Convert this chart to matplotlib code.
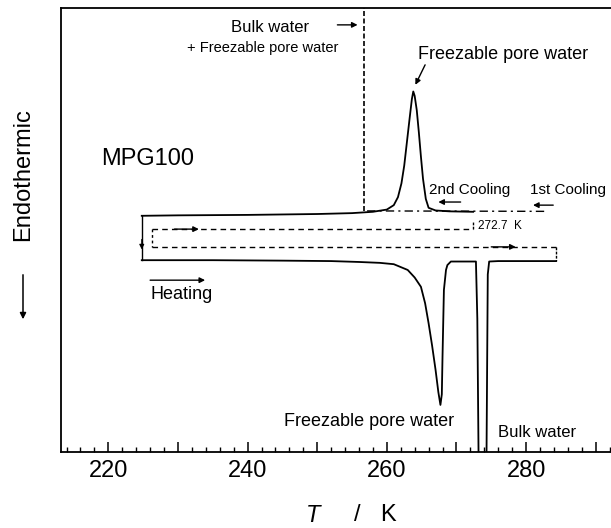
import matplotlib
matplotlib.use("Agg")
import matplotlib.pyplot as plt
import numpy as np

plt.rcParams['font.family'] = ['Liberation Sans', 'DejaVu Sans']

# ---- data (T in K, signal in arbitrary units, endothermic down) ----
T_cool2 = [224.8, 230, 240, 250, 255, 258, 260, 261, 261.6, 262.1, 262.5, 262.9, 263.3,
           263.6, 263.8, 264.0, 264.3, 264.6, 264.9, 265.2, 265.6, 266.0, 267, 269, 272.4]
y_cool2 = [53.2, 53.3, 53.4, 53.6, 53.8, 54.1, 54.6, 55.6, 57.4, 60.5, 64.5, 70.0, 75.5,
           79.5, 81.2, 80.2, 77.0, 72.0, 66.5, 61.5, 57.0, 55.0, 54.4, 54.2, 54.1]

T_cool1 = [282.6, 256.7, 256.7]
y_cool1_base = [54.2, 54.3]
y_cool1_top = 100.0

T_heat = [224.8, 235, 245, 252, 256, 259, 261, 263, 264, 264.9, 265.5, 266.0, 266.5, 267.0,
          267.4, 267.7, 267.9, 268.0, 268.2, 268.5, 268.7, 269.2, 270, 272.8, 273.0, 273.2,
          274.3, 274.5, 274.7, 276, 284.3]
y_heat = [43.2, 43.2, 43.1, 43.0, 42.8, 42.6, 42.3, 41.0, 39.3, 37.2, 33.5, 29.0, 24.0, 18.5,
          13.5, 10.6, 13.0, 21.5, 36.5, 41.0, 42.1, 42.9, 42.9, 42.9, 30.0, -5.0,
          -5.0, 40.0, 42.9, 43.0, 43.0]

T_loop_left, T_loop_mid, T_loop_right = 226.3, 272.4, 284.3
y_loop_top, y_loop_bot = 50.2, 46.2

xticks_major = [220, 230, 240, 250, 260, 270, 280, 290]
xtick_labels = ['220', '', '240', '', '260', '', '280', '']

fig = plt.figure(figsize=(6.11, 5.28), dpi=100)
ax = fig.add_axes([61/611, 1-452/528, 1-61/611, (452-8)/528])
ax.set_xlim(213.2, 292.2)
ax.set_ylim(0, 100)

lw = 1.3
# 2nd cooling (solid, upper)
ax.plot(T_cool2, y_cool2, color='k', lw=lw)
# 1st cooling (dash-dot then off-scale exotherm dashed)
ax.plot(T_cool1[:2], y_cool1_base, color='k', lw=1.0, ls=(0, (6, 3, 1.5, 3)))
ax.plot([T_cool1[1], T_cool1[2]], [y_cool1_base[1], y_cool1_top], color='k', lw=1.2,
        ls=(0, (3, 1.5)))
# heating (solid, lower)
ax.plot(T_heat, y_heat, color='k', lw=lw)
# vertical connector at start of heating
ax.plot([T_heat[0], T_heat[0]], [y_cool2[0], y_heat[0]], color='k', lw=1.0)
ax.annotate('', xy=(T_heat[0], 45.0), xytext=(T_heat[0], 48.5),
            arrowprops=dict(arrowstyle='-|>', color='k', lw=0.8, mutation_scale=7))
# dashed loop
dls = (0, (4, 3))
ax.plot([T_loop_left, T_loop_mid], [y_loop_top, y_loop_top], color='k', lw=1.0, ls=dls)
ax.plot([T_loop_mid, T_loop_mid], [y_loop_top, 51.8], color='k', lw=1.0, ls=(0, (2, 1)))
ax.plot([T_loop_left, T_loop_right], [y_loop_bot, y_loop_bot], color='k', lw=1.0, ls=dls)
ax.plot([T_loop_left, T_loop_left], [y_loop_top, y_loop_bot], color='k', lw=1.0, ls=(0, (2, 2)))
ax.plot([T_loop_right, T_loop_right], [y_loop_bot, 43.0], color='k', lw=1.0, ls=(0, (2, 1)))

def arrow(x0, y0, x1, y1):
    ax.annotate('', xy=(x1, y1), xytext=(x0, y0),
                arrowprops=dict(arrowstyle='-|>', color='k', lw=1.0, mutation_scale=8,
                                shrinkA=0, shrinkB=0))

arrow(229.5, y_loop_top, 233.0, y_loop_top)
arrow(275.0, y_loop_bot, 278.5, y_loop_bot)
arrow(252.9, 96.2, 255.8, 96.2)
arrow(265.5, 87.2, 264.1, 82.7)
arrow(270.6, 56.3, 267.4, 56.3)
arrow(283.9, 55.6, 281.0, 55.6)
arrow(226.0, 38.7, 233.9, 38.7)

# texts
ax.text(243.3, 95.5, 'Bulk water', ha='center', va='center', fontsize=12)
ax.text(242.1, 91.0, '+ Freezable pore water', ha='center', va='center', fontsize=10.5)
ax.text(276.7, 89.6, 'Freezable pore water', ha='center', va='center', fontsize=13)
ax.text(219.0, 66.0, 'MPG100', ha='left', va='center', fontsize=17)
ax.text(266.0, 59.0, '2nd Cooling', ha='left', va='center', fontsize=11)
ax.text(280.6, 59.0, '1st Cooling', ha='left', va='center', fontsize=11)
ax.text(273.1, 50.9, '272.7  K', ha='left', va='center', fontsize=8.5)
ax.text(226.0, 35.4, 'Heating', ha='left', va='center', fontsize=13)
ax.text(257.5, 6.8, 'Freezable pore water', ha='center', va='center', fontsize=13)
ax.text(276.0, 4.5, 'Bulk water', ha='left', va='center', fontsize=12)

# axes styling
ax.spines['right'].set_visible(False)
for s in ['left', 'top', 'bottom']:
    ax.spines[s].set_linewidth(1.3)
ax.set_yticks([])
ax.set_xticks(xticks_major)
ax.set_xticklabels(xtick_labels, fontsize=17)
ax.set_xticks(np.arange(214, 293, 2), minor=True)
ax.tick_params(axis='x', which='major', direction='in', length=7, width=1.1, pad=6)
ax.tick_params(axis='x', which='minor', direction='in', length=3.5, width=1.0)
ax.tick_params(top=False)

# axis labels
fig.text(313/611, 1-515/528, 'T', style='italic', fontsize=17, ha='center', va='center')
fig.text(357/611, 1-515/528, '/', fontsize=17, ha='center', va='center')
fig.text(388/611, 1-515/528, 'K', fontsize=17, ha='center', va='center')
fig.text(23/611, 1-175/528, 'Endothermic', rotation=90, fontsize=17, ha='center', va='center')
fig.patches.append(matplotlib.patches.FancyArrowPatch(
    (23/611, 1-272/528), (23/611, 1-322/528), transform=fig.transFigure,
    arrowstyle='-|>', mutation_scale=9, lw=1.1, color='k'))

fig.savefig('out.png', dpi=100)
